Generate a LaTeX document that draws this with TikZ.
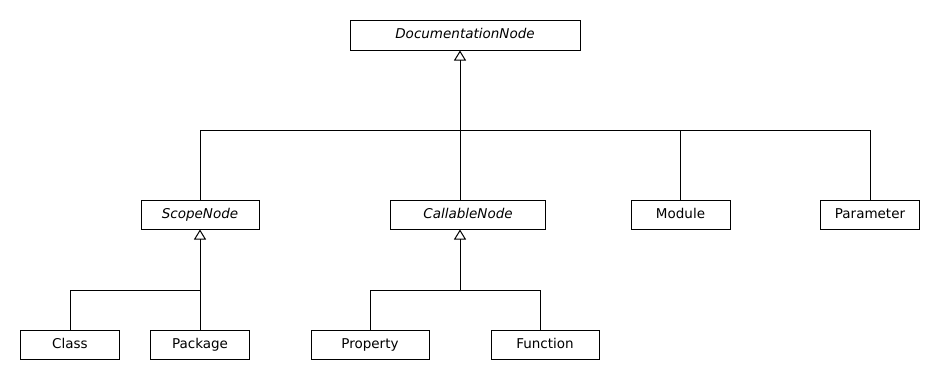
\documentclass[tikz,border=0pt]{standalone}
\usepackage{fontspec}
\setmainfont{DejaVu Sans}
\usetikzlibrary{arrows.meta}
\begin{document}
\begin{tikzpicture}[x=1pt,y=-1pt,
  cls/.style={draw,line width=1pt,inner sep=0pt,text height=10pt,text depth=3pt,font=\fontsize{13.5}{15}\selectfont},
  abs/.style={cls,font=\fontsize{13.5}{15}\selectfont\itshape},
  link/.style={line width=1pt},
  inh/.style={link,-{Triangle[open,length=10pt,width=12pt,line width=1pt]}}]
\useasboundingbox (0,0) rectangle (940,380);
\node[abs,minimum width=230pt,minimum height=30pt] (doc) at (465,35) {DocumentationNode};
\node[abs,minimum width=118pt,minimum height=29pt] (scope) at (200,214.5) {ScopeNode};
\node[abs,minimum width=155pt,minimum height=29pt] (callable) at (468,214.5) {CallableNode};
\node[cls,minimum width=99pt,minimum height=29pt] (module) at (680.5,214.5) {Module};
\node[cls,minimum width=99pt,minimum height=29pt] (param) at (870,214.5) {Parameter};
\node[cls,minimum width=99pt,minimum height=28.5pt] (class) at (70,345) {Class};
\node[cls,minimum width=99pt,minimum height=28.5pt] (package) at (200,345) {Package};
\node[cls,minimum width=118pt,minimum height=28.5pt] (property) at (370,345) {Property};
\node[cls,minimum width=108pt,minimum height=28.5pt] (function) at (545,345) {Function};
\coordinate (j1) at (460,130);
\coordinate (j2) at (200,290);
\coordinate (j3) at (460,290);
\coordinate (fn) at (540.7,290);
% level 1
\draw[inh] (callable.north -| j1) -- (doc.south -| j1);
\draw[link] (scope.north) |- (j1);
\draw[link] (param.north) |- (j1);
\draw[link] (module.north) -- (module.north |- j1);
% scope subtree
\draw[inh] (package.north) -- (scope.south);
\draw[link] (class.north) |- (j2);
% callable subtree
\draw[inh] (j3) -- (callable.south -| j3);
\draw[link] (property.north) |- (fn);
\draw[link] (function.north -| fn) -- (fn);
\end{tikzpicture}
\end{document}
